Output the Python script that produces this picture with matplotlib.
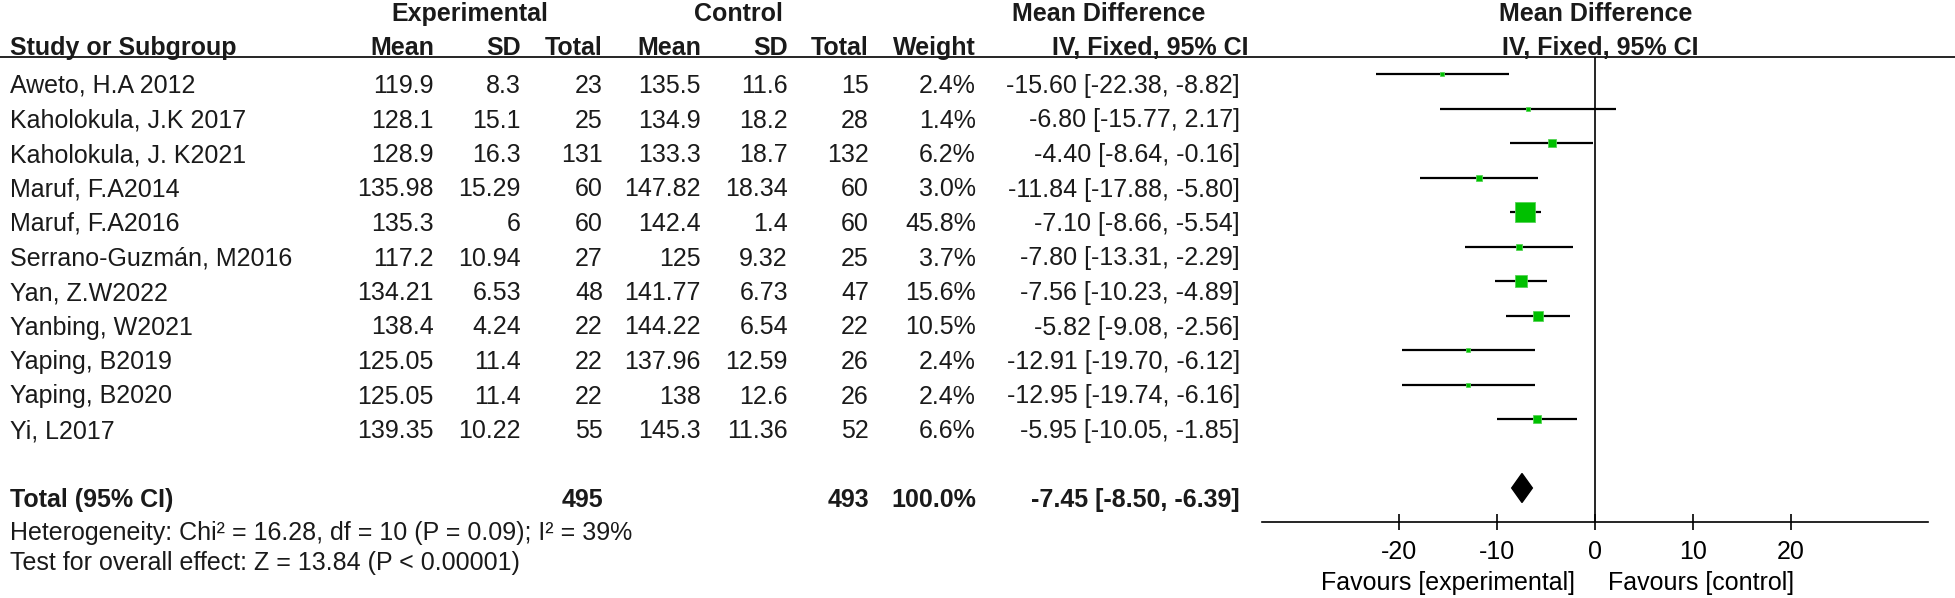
import matplotlib
matplotlib.use("Agg")
import matplotlib.pyplot as plt
from matplotlib.transforms import blended_transform_factory
import numpy as np

plt.rcParams['font.family'] = ['Liberation Sans', 'DejaVu Sans']
FS = 18

# data
studies = ["Aweto, H.A 2012", "Kaholokula, J.K 2017", "Kaholokula, J. K2021",
           "Maruf, F.A2014", "Maruf, F.A2016", "Serrano-Guzmán, M2016",
           "Yan, Z.W2022", "Yanbing, W2021", "Yaping, B2019", "Yaping, B2020",
           "Yi, L2017"]
exp_mean = ["119.9", "128.1", "128.9", "135.98", "135.3", "117.2", "134.21",
            "138.4", "125.05", "125.05", "139.35"]
exp_sd = ["8.3", "15.1", "16.3", "15.29", "6", "10.94", "6.53", "4.24",
          "11.4", "11.4", "10.22"]
exp_n = [23, 25, 131, 60, 60, 27, 48, 22, 22, 22, 55]
ctl_mean = ["135.5", "134.9", "133.3", "147.82", "142.4", "125", "141.77",
            "144.22", "137.96", "138", "145.3"]
ctl_sd = ["11.6", "18.2", "18.7", "18.34", "1.4", "9.32", "6.73", "6.54",
          "12.59", "12.6", "11.36"]
ctl_n = [15, 28, 132, 60, 60, 25, 47, 22, 26, 26, 52]
weight = [2.4, 1.4, 6.2, 3.0, 45.8, 3.7, 15.6, 10.5, 2.4, 2.4, 6.6]
md = [-15.60, -6.80, -4.40, -11.84, -7.10, -7.80, -7.56, -5.82, -12.91, -12.95, -5.95]
lo = [-22.38, -15.77, -8.64, -17.88, -8.66, -13.31, -10.23, -9.08, -19.70, -19.74, -10.05]
hi = [-8.82, 2.17, -0.16, -5.80, -5.54, -2.29, -4.89, -2.56, -6.12, -6.16, -1.85]

total_exp = 495
total_ctl = 493
total_md, total_lo, total_hi = -7.45, -8.50, -6.39
heterogeneity = "Heterogeneity: Chi² = 16.28, df = 10 (P = 0.09); I² = 39%"
overall = "Test for overall effect: Z = 13.84 (P < 0.00001)"
xticks = [-20, -10, 0, 10, 20]

W, H = 1955, 598
fig = plt.figure(figsize=(W / 100, H / 100), dpi=100)

# table part, laid out in pixel units
tab = fig.add_axes([0, 0, 1, 1])
tab.set_xlim(0, W)
tab.set_ylim(H, 0)
tab.axis('off')

def txt(x, y, s, ha='right', bold=False):
    tab.text(x, y, s, ha=ha, va='baseline', fontsize=FS,
             fontweight='bold' if bold else 'normal', color='#1a1a1a')

# headers
txt(470, 21, "Experimental", ha='center', bold=True)
txt(738, 21, "Control", ha='center', bold=True)
txt(1109, 21, "Mean Difference", ha='center', bold=True)
txt(1596, 21, "Mean Difference", ha='center', bold=True)
txt(10, 55, "Study or Subgroup", ha='left', bold=True)
cols = [434, 521, 603, 701, 788, 869, 976]
for x, s in zip(cols, ["Mean", "SD", "Total", "Mean", "SD", "Total", "Weight"]):
    txt(x, 55, s, bold=True)
txt(1150, 55, "IV, Fixed, 95% CI", ha='center', bold=True)
txt(1600, 55, "IV, Fixed, 95% CI", ha='center', bold=True)
tab.plot([0, W], [57, 57], color='black', lw=1.2)

for i in range(len(studies)):
    yb = 93 + 34.5 * i
    txt(10, yb, studies[i], ha='left')
    vals = [exp_mean[i], exp_sd[i], str(exp_n[i]), ctl_mean[i], ctl_sd[i],
            str(ctl_n[i]), f"{weight[i]:.1f}%"]
    for x, s in zip(cols, vals):
        txt(x, yb, s)
    txt(1240, yb, f"{md[i]:.2f} [{lo[i]:.2f}, {hi[i]:.2f}]")

yt = 93 + 34.5 * 12
txt(10, yt, "Total (95% CI)", ha='left', bold=True)
txt(cols[2], yt, str(total_exp), bold=True)
txt(cols[5], yt, str(total_ctl), bold=True)
txt(cols[6], yt, f"{sum(weight):.1f}%", bold=True)
txt(1240, yt, f"{total_md:.2f} [{total_lo:.2f}, {total_hi:.2f}]", bold=True)
txt(10, 540, heterogeneity, ha='left')
txt(10, 570, overall, ha='left')

# forest plot
x0, x1 = -34, 34
px_per_unit = 9.8
left_px = 1595 + x0 * px_per_unit
ax = fig.add_axes([left_px / W, 1 - 522 / H, (x1 - x0) * px_per_unit / W, (522 - 57) / H])
ax.patch.set_alpha(0)
ax.set_xlim(x0, x1)
ax.set_ylim((522 - 74) / 34.5, (57 - 74) / 34.5)

rows = np.arange(len(studies))
ax.hlines(rows, lo, hi, color='black', lw=1.6, zorder=2)
wmax = max(weight)
for r, m, w in zip(rows, md, weight):
    side_px = 20 * np.sqrt(w / wmax)
    ax.plot(m, r, marker='s', ms=side_px * 0.72, mfc='#00C000', mec='#55D455',
            mew=0.6, ls='none', zorder=3)

ax.fill([total_lo, total_md, total_hi, total_md], [12, 12 - 0.42, 12, 12 + 0.42],
        color='black', zorder=3)
ax.axvline(0, color='black', lw=1.2, zorder=1)

for side in ['top', 'right', 'left']:
    ax.spines[side].set_visible(False)
ax.spines['bottom'].set_linewidth(1.2)
ax.set_yticks([])
ax.set_xticks(xticks)
ax.set_xticklabels([str(t) for t in xticks], fontsize=FS)
ax.tick_params(axis='x', direction='inout', length=12, width=1.2, pad=7)

tr = blended_transform_factory(ax.transData, ax.transAxes)
fav_y = (522 - 590) / (522 - 57)
ax.text(-2.0, fav_y, "Favours [experimental]", transform=tr, ha='right',
        va='baseline', fontsize=FS)
ax.text(1.3, fav_y, "Favours [control]", transform=tr, ha='left',
        va='baseline', fontsize=FS)

fig.savefig("out.png", dpi=100)
